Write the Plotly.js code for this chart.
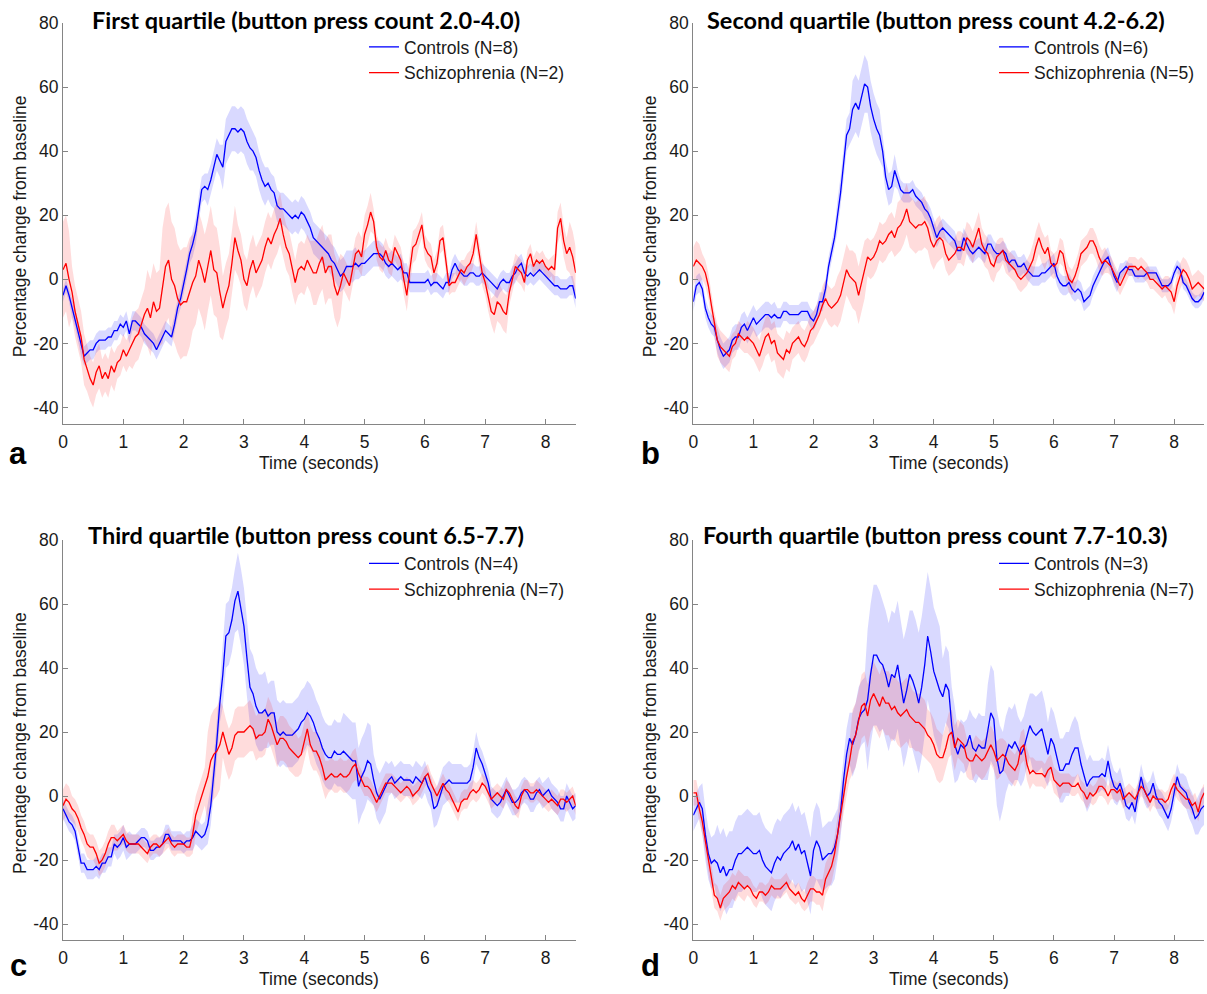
<!DOCTYPE html>
<html><head><meta charset="utf-8">
<script src="https://cdn.plot.ly/plotly-3.0.1.min.js"></script>
<style>html,body{margin:0;padding:0;background:#fff}#chart{width:1207px;height:994px}</style>
</head><body><div id="chart"></div>
<script>
// ---------------- DATA ----------------
// time grid (seconds), one sample every 0.05 s from 0 to 8.5
const TIME_STEP = 0.05, N_SAMPLES = 171, SD_STEP = 0.25;
const time = Array.from({length: N_SAMPLES}, (_, i) => Math.round(i * TIME_STEP * 100) / 100);

const xTicks = [0, 1, 2, 3, 4, 5, 6, 7, 8];
const yTicks = [-40, -20, 0, 20, 40, 60, 80];

const panelTitles = [
  'First quartile (button press count 2.0-4.0)',
  'Second quartile (button press count 4.2-6.2)',
  'Third quartile (button press count 6.5-7.7)',
  'Fourth quartile (button press count 7.7-10.3)'
];
const panelLetters = ['a', 'b', 'c', 'd'];
const controlLabels = ['Controls (N=8)', 'Controls (N=6)', 'Controls (N=4)', 'Controls (N=3)'];
const schizLabels = ['Schizophrenia (N=2)', 'Schizophrenia (N=5)', 'Schizophrenia (N=7)', 'Schizophrenia (N=7)'];

// Panel a — mean % change (0.05 s samples)
const aControls = [
  -5,-2,-5,-9,-12,-16,-21,-24,-23,-22,
  -22,-20,-19,-19,-19,-18,-18,-16,-16,-14,
  -15,-13,-17,-13,-13,-14,-15,-17,-18,-19,
  -20,-22,-20,-18,-16,-17,-18,-14,-9,-6,
  -2,3,8,11,15,22,28,29,28,31,
  35,39,37,35,43,45,47,47,46,47,
  46,43,41,40,38,34,31,29,30,28,
  27,23,22,22,21,20,19,20,19,21,
  20,18,16,13,12,11,10,9,8,6,
  5,3,1,2,4,4,4,5,4,5,
  5,6,7,8,8,8,7,5,4,5,
  4,3,4,2,2,-1,-1,-1,-1,-1,
  -1,0,-2,-1,-1,-2,-3,-1,-1,3,
  5,3,2,1,1,2,2,1,1,2,
  1,0,-1,-2,-3,-1,0,-1,-1,1,
  2,4,5,2,1,2,1,2,3,2,
  1,0,-1,-2,-2,-3,-3,-3,-2,-2,
  -6];
const aSchiz = [
  3,5,0,-4,-10,-14,-18,-25,-28,-31,
  -33,-29,-27,-31,-29,-31,-27,-29,-26,-25,
  -22,-24,-22,-20,-18,-17,-14,-11,-9,-12,
  -7,-10,-9,-2,4,6,0,-2,-6,-8,
  -7,-7,-4,-1,1,6,3,-1,4,9,
  3,2,-4,-9,-5,-2,5,13,9,6,
  0,-2,3,6,2,4,6,10,13,11,
  14,16,19,14,10,8,3,-1,3,4,
  3,6,4,2,2,5,7,2,4,4,
  -2,-5,-2,2,0,-2,3,8,9,7,
  14,17,21,18,10,7,6,9,6,5,
  10,8,6,0,-5,3,10,11,14,17,
  10,8,7,2,5,12,13,6,-2,-1,
  -1,1,3,2,4,5,8,14,8,2,
  -1,-6,-10,-11,-7,-8,-10,-11,-4,0,
  4,3,2,-1,6,8,4,6,5,6,
  4,3,4,3,16,19,12,8,10,7,
  2];
// Panel b
const bControls = [
  -7,-2,-1,-3,-9,-12,-14,-15,-19,-22,
  -24,-23,-22,-19,-18,-18,-15,-14,-16,-14,
  -12,-14,-13,-12,-11,-11,-12,-11,-12,-12,
  -10,-10,-11,-11,-11,-11,-10,-10,-10,-12,
  -13,-11,-7,-7,-3,4,8,13,20,27,
  36,45,47,53,55,53,57,61,60,54,
  50,47,45,40,32,28,29,34,31,28,
  27,27,27,28,26,25,24,22,21,19,
  16,13,15,16,15,14,13,12,9,9,
  13,11,9,8,9,10,9,8,11,11,
  9,8,8,9,8,5,6,6,4,4,
  5,3,2,1,1,1,2,2,3,4,
  5,1,-1,-2,-2,-1,-3,-4,-3,-4,
  -7,-6,-5,-2,0,2,4,6,7,4,
  1,-1,2,3,4,3,3,1,1,1,
  1,2,2,2,2,0,-2,-2,-2,-1,
  2,4,3,-1,-2,-4,-6,-7,-7,-6,
  -4];
const bSchiz = [
  4,6,5,4,2,-2,-8,-14,-19,-21,
  -22,-23,-24,-21,-20,-17,-18,-19,-18,-19,
  -20,-22,-24,-21,-18,-17,-20,-19,-23,-24,
  -25,-22,-23,-20,-19,-18,-20,-21,-19,-16,
  -15,-13,-11,-8,-6,-8,-9,-8,-7,-5,
  -1,3,1,0,-1,-5,-1,3,7,6,
  7,9,12,11,12,14,15,13,16,17,
  19,22,18,17,16,17,17,18,16,12,
  10,12,13,12,8,6,7,8,10,10,
  9,13,12,10,13,16,11,9,8,5,
  4,7,8,9,6,5,4,3,1,0,
  1,2,4,6,10,13,10,8,10,5,
  4,5,9,8,3,0,-1,1,4,8,
  9,10,12,12,10,7,5,6,5,4,
  2,0,-2,0,2,4,4,4,3,4,
  3,2,0,0,-1,-2,-3,-2,-3,-4,
  -7,-2,1,3,2,0,-3,-2,-1,-2,
  -3];
// Panel c
const cControls = [
  -4,-6,-8,-9,-11,-16,-21,-21,-23,-23,
  -23,-22,-23,-21,-21,-19,-19,-15,-16,-15,
  -13,-16,-15,-15,-15,-14,-13,-13,-14,-17,
  -17,-16,-16,-15,-12,-12,-14,-14,-14,-14,
  -15,-14,-14,-13,-11,-12,-13,-12,-9,-3,
  6,17,29,38,50,51,55,61,64,59,
  53,43,34,32,28,26,26,27,25,26,
  26,20,19,20,19,19,19,20,21,23,
  24,26,25,23,20,18,15,13,12,12,
  14,13,13,14,13,12,11,11,3,6,
  8,11,10,5,1,-1,1,3,5,6,
  4,5,6,5,5,5,4,6,5,4,
  6,3,1,-4,-3,0,3,4,5,4,
  4,4,4,4,4,5,9,15,12,10,
  7,4,-1,-2,-3,-2,0,2,0,-2,
  -2,-1,1,2,1,-1,-1,1,2,0,
  1,2,0,-1,-2,-4,-4,0,-2,-4,
  -3];
const cSchiz = [
  -3,-1,-2,-4,-5,-7,-10,-12,-15,-16,
  -16,-18,-21,-20,-18,-15,-13,-13,-14,-13,
  -12,-14,-15,-15,-15,-15,-16,-17,-18,-16,
  -15,-15,-16,-15,-14,-13,-15,-16,-15,-15,
  -15,-16,-16,-12,-6,-3,0,3,6,11,
  13,14,16,20,16,13,15,19,20,20,
  20,21,22,21,18,19,19,20,24,22,
  19,16,18,18,17,15,14,13,12,13,
  17,21,16,14,14,12,9,5,6,7,
  6,6,7,6,6,7,9,10,7,5,
  3,3,2,0,-2,0,2,4,4,4,
  3,2,1,2,3,2,0,1,2,4,
  6,7,4,2,0,2,4,2,1,-1,
  -3,-5,-2,-1,-1,1,2,1,2,4,
  3,1,-1,0,1,0,-1,2,1,-1,
  -3,-4,0,2,2,1,1,2,1,0,
  -1,-2,-1,-2,-3,-1,-1,-2,-1,0,
  -3];
// Panel d
const dControls = [
  -6,-4,-2,-4,-12,-18,-21,-20,-21,-24,
  -22,-25,-23,-23,-20,-18,-18,-17,-16,-17,
  -18,-18,-17,-20,-22,-23,-24,-21,-19,-20,
  -18,-17,-16,-14,-17,-15,-18,-17,-21,-25,
  -17,-14,-16,-20,-19,-18,-18,-16,-12,-5,
  5,13,18,16,19,24,26,27,30,38,
  44,44,42,41,38,34,38,37,41,35,
  29,33,38,36,33,29,34,41,50,45,
  39,36,33,31,35,33,22,16,13,16,
  15,16,19,15,14,16,15,15,20,26,
  24,12,7,8,13,16,15,17,15,13,
  15,19,22,20,19,20,21,17,13,18,
  16,12,8,8,10,10,13,15,15,10,
  6,3,5,6,6,6,7,6,11,6,
  3,2,4,1,-3,-4,-2,-5,1,6,
  2,0,1,4,0,-2,-3,-5,-7,-4,
  1,6,3,2,1,-2,-4,-7,-6,-4,
  -3];
const dSchiz = [
  1,1,-4,-8,-14,-20,-26,-31,-32,-35,
  -32,-31,-30,-28,-29,-27,-28,-29,-28,-29,
  -31,-32,-30,-30,-31,-30,-28,-29,-29,-29,
  -28,-27,-29,-30,-31,-30,-32,-33,-31,-29,
  -29,-30,-30,-31,-26,-24,-22,-18,-12,-5,
  1,6,11,17,19,23,28,29,25,30,
  32,30,28,31,29,29,27,28,26,25,
  26,27,25,24,23,23,22,21,19,18,
  16,13,12,12,15,19,20,15,18,17,
  16,12,11,11,13,12,11,12,14,16,
  14,11,12,13,12,10,9,8,10,15,
  16,10,7,8,7,7,7,6,8,9,
  5,4,3,4,4,4,3,3,4,2,
  1,-1,1,0,1,3,3,2,0,2,
  2,1,2,-1,0,1,0,-1,1,3,
  2,0,-2,0,-1,-1,-1,-2,-1,2,
  4,2,1,0,-1,-1,-3,-2,-5,-1,
  1];

// Shaded error band half-widths (one value per 0.25 s)
const aControlsErr = [2,3,3,3,3,3,3,3,3,4,5,7,7,6,5,5,5,5,5,5,4,4,4,3,3,3,3,3,3,3,3,3,3,3,3];
const aSchizErr    = [15,8,7,6,5,8,12,18,17,15,14,10,8,8,8,7,8,10,10,5,6,4,4,5,4,4,3,4,4,6,4,3,3,5,8];
const bControlsErr = [3,3,4,4,4,4,3,3,3,3,5,9,8,5,3,3,3,3,3,3,3,3,3,3,3,3,3,3,3,2,2,2,2,2,2];
const bSchizErr    = [6,4,5,4,5,6,6,5,5,6,8,9,6,6,8,8,7,5,5,5,5,4,4,5,4,4,4,4,3,3,3,3,4,4,4];
const cControlsErr = [3,3,3,3,4,3,3,3,3,4,6,10,12,12,10,10,10,10,10,12,12,8,5,5,5,6,6,5,4,4,4,4,4,4,4];
const cSchizErr    = [5,4,4,4,3,3,3,3,3,6,14,8,8,7,7,7,6,6,5,5,3,3,3,3,3,3,3,3,3,3,3,3,3,3,3];
const dControlsErr = [5,8,12,12,12,12,12,12,12,10,8,10,22,20,20,22,20,12,8,10,15,12,10,12,10,10,8,5,5,4,4,4,4,5,6];
const dSchizErr    = [4,4,4,4,3,3,3,3,4,5,6,10,10,10,10,9,8,7,6,6,6,5,5,4,4,3,3,3,3,3,3,3,3,3,3];

// ---------------- LAYOUT / STYLE ----------------
const W = 1207, H = 994;
const px = v => v / W, py = v => 1 - v / H;
const colX = [[63, 575.7], [693.3, 1204.2]];
const rowY = [[23, 423.5], [540, 940]];
const BLUE = '#0000ff', RED = '#ff0000';
const BLUE_FILL = 'rgba(20,20,255,0.16)', RED_FILL = 'rgba(255,20,20,0.15)';
const TXT = '#1a1a1a', AXC = '#858585';
const SANS = 'Liberation Sans, Arial, sans-serif';
const FS = 17.5;

const panels = [
  {ctl: aControls, ctlErr: aControlsErr, sz: aSchiz, szErr: aSchizErr},
  {ctl: bControls, ctlErr: bControlsErr, sz: bSchiz, szErr: bSchizErr},
  {ctl: cControls, ctlErr: cControlsErr, sz: cSchiz, szErr: cSchizErr},
  {ctl: dControls, ctlErr: dControlsErr, sz: dSchiz, szErr: dSchizErr}
];

function band(mean, err, xa, ya, fill) {
  const up = mean.map((m, i) => m + err[Math.round(time[i] / SD_STEP)]);
  const lo = mean.map((m, i) => m - err[Math.round(time[i] / SD_STEP)]);
  return {
    type: 'scatter', mode: 'lines', x: time.concat(time.slice().reverse()),
    y: up.concat(lo.slice().reverse()), fill: 'toself', fillcolor: fill,
    line: {width: 0, color: 'rgba(0,0,0,0)'}, hoverinfo: 'skip', showlegend: false,
    xaxis: xa, yaxis: ya
  };
}

const traces = [];
const layout = {
  width: W, height: H, margin: {l: 0, r: 0, t: 0, b: 0},
  paper_bgcolor: '#fff', plot_bgcolor: '#fff', showlegend: true,
  annotations: [], font: {family: SANS, color: TXT}
};

panels.forEach((p, i) => {
  const col = i % 2, row = Math.floor(i / 2);
  const k = i + 1;
  const xa = 'x' + (k === 1 ? '' : k), ya = 'y' + (k === 1 ? '' : k);
  const legName = 'legend' + (k === 1 ? '' : k);
  traces.push(band(p.ctl, p.ctlErr, xa, ya, BLUE_FILL));
  traces.push(band(p.sz, p.szErr, xa, ya, RED_FILL));
  traces.push({type: 'scatter', mode: 'lines', x: time, y: p.ctl, name: controlLabels[i],
    line: {color: BLUE, width: 1.3}, xaxis: xa, yaxis: ya, legend: legName, legendgroup: 'c' + k});
  traces.push({type: 'scatter', mode: 'lines', x: time, y: p.sz, name: schizLabels[i],
    line: {color: RED, width: 1.3}, xaxis: xa, yaxis: ya, legend: legName, legendgroup: 's' + k});

  const [x0, x1] = colX[col], [y0, y1] = rowY[row];
  layout['xaxis' + (k === 1 ? '' : k)] = {
    domain: [px(x0), px(x1)], range: [0, 8.5], anchor: ya,
    tickmode: 'array', tickvals: xTicks, ticktext: xTicks.map(String),
    ticks: 'inside', ticklen: 5, tickcolor: AXC, tickwidth: 1, ticklabelstandoff: 2,
    showline: true, linecolor: AXC, linewidth: 1, showgrid: false, zeroline: false,
    tickfont: {family: SANS, size: FS, color: TXT}, fixedrange: true
  };
  layout['yaxis' + (k === 1 ? '' : k)] = {
    domain: [py(y1), py(y0)], range: [-45, 80], anchor: xa,
    tickmode: 'array', tickvals: yTicks, ticktext: yTicks.map(String),
    ticks: 'inside', ticklen: 5, tickcolor: AXC, tickwidth: 1,
    showline: true, linecolor: AXC, linewidth: 1, showgrid: false, zeroline: false,
    tickfont: {family: SANS, size: FS, color: TXT}, fixedrange: true
  };
  layout[legName] = {
    x: px(col === 0 ? 364 : 994), y: py(row === 0 ? 29 : 545.5), xanchor: 'left', yanchor: 'top',
    bgcolor: 'rgba(0,0,0,0)', borderwidth: 0, tracegroupgap: 0,
    font: {family: SANS, size: FS, color: TXT}
  };

  const cx = (x0 + x1) / 2;
  // panel title
  layout.annotations.push({text: panelTitles[i], xref: 'paper', yref: 'paper',
    x: px(cx - 13), y: py(row === 0 ? 20 : 535), xanchor: 'center', yanchor: 'middle', showarrow: false,
    font: {family: 'Lato, Carlito, sans-serif', size: 23.5, weight: 700, color: '#000'}});
  // x-axis title
  layout.annotations.push({text: 'Time (seconds)', xref: 'paper', yref: 'paper',
    x: px(cx), y: py(row === 0 ? 463 : 979), xanchor: 'center', yanchor: 'middle', showarrow: false,
    font: {family: SANS, size: FS, color: TXT}});
  // y-axis title
  layout.annotations.push({text: 'Percentage change from baseline', xref: 'paper', yref: 'paper',
    x: px(col === 0 ? 20 : 650), y: py((y0 + y1) / 2 + 3), xanchor: 'center', yanchor: 'middle',
    textangle: -90, showarrow: false, font: {family: SANS, size: FS, color: TXT}});
  // panel letter
  layout.annotations.push({text: panelLetters[i], xref: 'paper', yref: 'paper',
    x: px(col === 0 ? 18 : 650), y: py(row === 0 ? 473 : 985), xanchor: 'center', yanchor: 'bottom',
    showarrow: false, font: {family: SANS, size: 31, weight: 700, color: '#000'}});
});

Plotly.newPlot('chart', traces, layout, {staticPlot: true, displayModeBar: false});
</script>
</body></html>
